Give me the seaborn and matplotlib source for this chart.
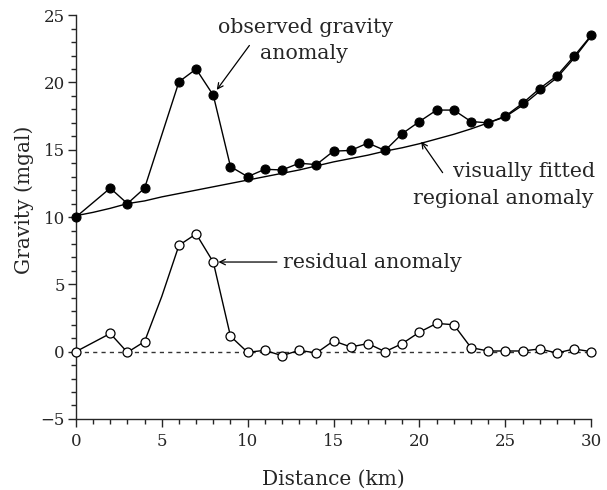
import matplotlib
matplotlib.use("Agg")
import matplotlib.pyplot as plt
import seaborn as sns
import pandas as pd
import numpy as np

# Station distances (km); x = 5 is a line vertex without a symbol
distance = [0, 2, 3, 4, 5, 6, 7, 8, 9, 10, 11, 12, 13, 14, 15, 16, 17, 18, 19,
            20, 21, 22, 23, 24, 25, 26, 27, 28, 29, 30]
observed = [10.0, 12.15, 11.0, 12.15, 16.1, 20.05, 21.0, 19.05, 13.75, 13.0,
            13.55, 13.5, 14.0, 13.9, 14.9, 14.95, 15.5, 14.95, 16.2, 17.1,
            17.95, 17.95, 17.1, 17.0, 17.5, 18.45, 19.55, 20.5, 21.95, 23.5]
residual = [0.0, 1.35, -0.05, 0.75, 4.1, 7.9, 8.75, 6.65, 1.15, -0.05,
            0.1, -0.3, 0.1, -0.1, 0.8, 0.35, 0.6, 0.0, 0.6, 1.45,
            2.1, 2.0, 0.3, 0.05, 0.05, 0.05, 0.2, -0.1, 0.2, 0.0]
unmarked = [5]

reg_distance = list(range(0, 31))
regional = [10.1, 10.35, 10.65, 11.0, 11.2, 11.5, 11.75, 12.0, 12.25, 12.5,
            12.75, 13.0, 13.25, 13.5, 13.8, 14.1, 14.35, 14.6, 14.9, 15.15,
            15.45, 15.8, 16.15, 16.55, 17.0, 17.45, 18.3, 19.35, 20.35, 21.8, 23.45]

sns.set_style("ticks")
plt.rcParams["font.family"] = ["DejaVu Serif"]
plt.rcParams["axes.linewidth"] = 1.0

df = pd.DataFrame({"distance": distance, "observed": observed, "residual": residual})
marked = df[~df["distance"].isin(unmarked)]
reg = pd.DataFrame({"distance": reg_distance, "regional": regional})

fig = plt.figure(figsize=(6.07, 4.9), dpi=100)
ax = fig.add_axes([0.125, 0.145, 0.849, 0.824])

ax.axhline(0, xmin=0, xmax=1, color="#333333", lw=1.0, ls=(0, (3, 3)), zorder=1)

sns.lineplot(data=reg, x="distance", y="regional", color="black", lw=1.0, ax=ax, zorder=2)
sns.lineplot(data=df, x="distance", y="observed", color="black", lw=1.0, ax=ax, zorder=2)
sns.lineplot(data=df, x="distance", y="residual", color="black", lw=1.0, ax=ax, zorder=2)

sns.scatterplot(data=marked, x="distance", y="observed", color="black",
                edgecolor="black", s=42, linewidth=0.8, ax=ax, zorder=3, clip_on=False)
sns.scatterplot(data=marked, x="distance", y="residual", color="white",
                edgecolor="black", s=42, linewidth=0.9, ax=ax, zorder=3, clip_on=False)

ax.set_xlim(0, 30)
ax.set_ylim(-5, 25)
ax.set_xticks(np.arange(0, 31, 5))
ax.set_xticks(np.arange(0, 31, 1), minor=True)
ax.set_yticks(np.arange(-5, 26, 5))
ax.set_yticks(np.arange(-5, 26, 1), minor=True)
ax.tick_params(axis="both", which="major", direction="out", length=6, width=1.0,
               labelsize=12)
ax.tick_params(axis="x", which="major", pad=4)
ax.tick_params(axis="y", which="major", pad=2)
ax.tick_params(axis="both", which="minor", direction="out", length=3.5, width=1.0)
sns.despine(ax=ax)

ax.set_xlabel("Distance (km)", fontsize=14.5, labelpad=14)
ax.set_ylabel("Gravity (mgal)", fontsize=14.5)
ax.yaxis.set_label_coords(-0.082, 0.542)

fs = 14.8
arrow = dict(arrowstyle="->", color="black", lw=0.9, shrinkA=0, shrinkB=0)

ax.text(13.35, 23.66, "observed gravity", ha="center", va="baseline", fontsize=fs)
ax.text(13.3, 21.73, "anomaly", ha="center", va="baseline", fontsize=fs)
ax.annotate("", xy=(8.2, 19.45), xytext=(10.1, 22.75), arrowprops=arrow)

ax.text(30.23, 12.99, "visually fitted", ha="right", va="baseline", fontsize=fs)
ax.text(30.11, 10.96, "regional anomaly", ha="right", va="baseline", fontsize=fs)
ax.annotate("", xy=(20.1, 15.6), xytext=(21.35, 13.3), arrowprops=arrow)

ax.text(12.04, 6.24, "residual anomaly", ha="left", va="baseline", fontsize=fs)
ax.annotate("", xy=(8.3, 6.66), xytext=(11.7, 6.66), arrowprops=arrow)

fig.savefig("out.png", dpi=100)
